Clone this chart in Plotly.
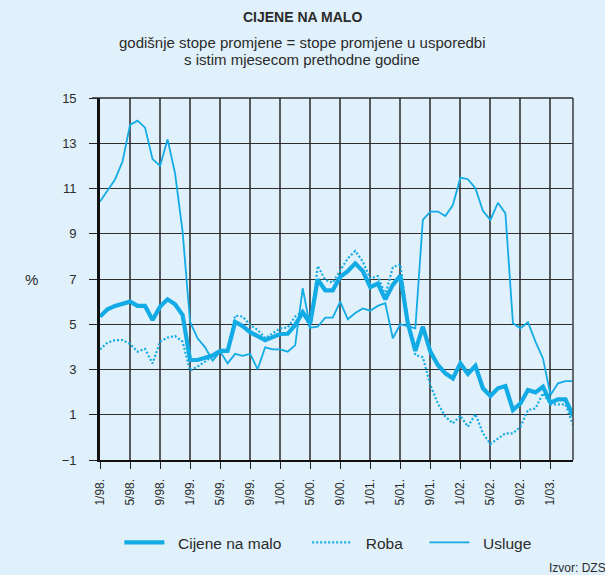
import plotly.graph_objects as go

# Month categories 1/98. ... 4/03.
years = ["98", "99", "00", "01", "02", "03"]
months = [f"{m}/{y}." for y in years for m in range(1, 13)][:64]

tick_labels = ["1/98.", "5/98.", "9/98.", "1/99.", "5/99.", "9/99.", "1/00.", "5/00.",
               "9/00.", "1/01.", "5/01.", "9/01.", "1/02.", "5/02.", "9/02.", "1/03."]

cijene = [5.34, 5.66, 5.81, 5.90, 6.00, 5.81, 5.81, 5.19, 5.78, 6.10, 5.88, 5.41,
          3.42, 3.42, 3.52, 3.62, 3.82, 3.82, 5.10, 4.92, 4.65, 4.45, 4.30, 4.43,
          4.57, 4.58, 4.97, 5.53, 5.04, 6.98, 6.50, 6.50, 7.10, 7.35, 7.69, 7.35,
          6.64, 6.80, 6.10, 6.74, 7.15, 5.04, 3.82, 4.89, 3.79, 3.20, 2.83, 2.61,
          3.27, 2.80, 3.16, 2.17, 1.83, 2.17, 2.27, 1.21, 1.50, 2.09, 1.99, 2.24,
          1.53, 1.68, 1.68, 0.95]

roba = [3.89, 4.19, 4.30, 4.30, 4.13, 3.79, 3.91, 3.27, 4.23, 4.41, 4.48, 4.23,
        2.95, 3.13, 3.35, 3.60, 3.84, 3.84, 5.38, 5.34, 4.97, 4.75, 4.38, 4.60,
        4.82, 4.86, 5.34, 5.56, 4.82, 7.58, 6.96, 6.84, 7.40, 7.91, 8.24, 7.77,
        7.03, 7.13, 6.30, 7.52, 7.65, 5.10, 3.64, 3.54, 2.31, 1.50, 0.92, 0.62,
        0.96, 0.47, 1.03, 0.18, -0.29, -0.04, 0.18, 0.18, 0.47, 1.21, 1.28, 1.95,
        1.46, 1.46, 1.46, 0.55]

usluge = [10.42, 10.90, 11.40, 12.19, 13.81, 14.00, 13.69, 12.30, 12.00, 13.17, 11.67, 9.09,
          5.10, 4.38, 3.98, 3.39, 3.79, 3.27, 3.69, 3.60, 3.69, 3.01, 3.98, 3.89,
          3.89, 3.79, 4.08, 6.59, 4.85, 4.89, 5.29, 5.29, 6.00, 5.22, 5.50, 5.70,
          5.60, 5.81, 5.93, 4.38, 5.00, 4.92, 4.82, 9.61, 9.98, 9.98, 9.78, 10.27,
          11.48, 11.41, 11.01, 10.01, 9.61, 10.37, 9.90, 5.04, 4.82, 5.09, 4.23, 3.49,
          1.87, 2.39, 2.49, 2.49]

y_ticks = [-1, 1, 3, 5, 7, 9, 11, 13, 15]
y_tick_text = ["\u22121", "1", "3", "5", "7", "9", "11", "13", "15"]

BLUE = "#12ABE6"
BG = "#E0F1FB"
TXT = "#2b2b2b"
FONT = "Liberation Sans, Arial, sans-serif"
NB = "\u00a0\u00a0"

fig = go.Figure()
fig.add_trace(go.Scatter(x=months, y=usluge, mode="lines", name=NB + "Usluge",
                         legend="legend3",
                         line=dict(color=BLUE, width=1.8)))
fig.add_trace(go.Scatter(x=months, y=roba, mode="lines", name=NB + "Roba",
                         legend="legend2",
                         line=dict(color=BLUE, width=2.2, dash="2px,2px")))
fig.add_trace(go.Scatter(x=months, y=cijene, mode="lines", name=NB + "Cijene na malo",
                         legend="legend",
                         line=dict(color=BLUE, width=4.2)))


def leg(xpos):
    return dict(orientation="h", x=xpos, xanchor="left", y=-0.229, yanchor="middle",
                font=dict(size=15.5, color=TXT), bgcolor="rgba(0,0,0,0)", itemwidth=40)


fig.update_layout(
    width=605, height=575,
    margin=dict(l=100, r=32, t=98, b=115),
    paper_bgcolor=BG, plot_bgcolor=BG,
    font=dict(family=FONT, color=TXT, size=12),
    showlegend=True,
    legend=leg(0.041),
    legend2=leg(0.438),
    legend3=leg(0.686),
    xaxis=dict(
        type="category", categoryorder="array", categoryarray=months,
        range=[0, len(months) - 1],
        tickmode="array", tickvals=tick_labels, ticktext=tick_labels,
        tickangle=-90, ticks="outside", ticklen=7, tickwidth=1.3, tickcolor="#222",
        ticklabelstandoff=5,
        showgrid=True, gridcolor="#55595c", gridwidth=1.6,
        showline=True, linecolor="#111", linewidth=2.2,
        zeroline=False, tickfont=dict(size=12, color=TXT),
    ),
    yaxis=dict(
        range=[-1, 15], tickmode="array", tickvals=y_ticks, ticktext=y_tick_text,
        ticks="outside", ticklen=8, tickwidth=1.3, tickcolor="#222",
        ticklabelstandoff=10,
        showgrid=True, gridcolor="#2e2e2e", gridwidth=1.3,
        showline=True, linecolor="#111", linewidth=2.6,
        zeroline=False, tickfont=dict(size=13, color=TXT),
    ),
    shapes=[dict(type="line", xref="paper", yref="paper", x0=1, x1=1, y0=0, y1=1,
                 line=dict(color="#55595c", width=1.8)),
            dict(type="line", xref="paper", yref="paper", x0=-0.017, x1=1, y0=1, y1=1,
                 line=dict(color="#2e2e2e", width=1.3))],
    annotations=[
        dict(text="<b>CIJENE NA MALO</b>", xref="paper", yref="paper", x=0.428, y=1.224,
             xanchor="center", yanchor="middle", showarrow=False,
             font=dict(size=14, color=TXT)),
        dict(text="godišnje stope promjene = stope promjene u usporedbi", xref="paper",
             yref="paper", x=0.428, y=1.152, xanchor="center", yanchor="middle",
             showarrow=False, font=dict(size=15, color=TXT)),
        dict(text="s istim mjesecom prethodne godine", xref="paper", yref="paper",
             x=0.428, y=1.105, xanchor="center", yanchor="middle", showarrow=False,
             font=dict(size=15, color=TXT)),
        dict(text="%", xref="paper", yref="y", x=-0.144, y=7, xanchor="center",
             yanchor="middle", showarrow=False, font=dict(size=15, color=TXT)),
        dict(text="Izvor: DZS", xref="paper", yref="paper", x=0.945, y=-0.298,
             xanchor="left", yanchor="middle", showarrow=False,
             font=dict(size=12, color=TXT)),
    ],
)

fig.write_html("out.html",
               config={"displayModeBar": False},
               post_script="document.body.style.margin='0';"
                           "document.body.style.background='" + BG + "';")
